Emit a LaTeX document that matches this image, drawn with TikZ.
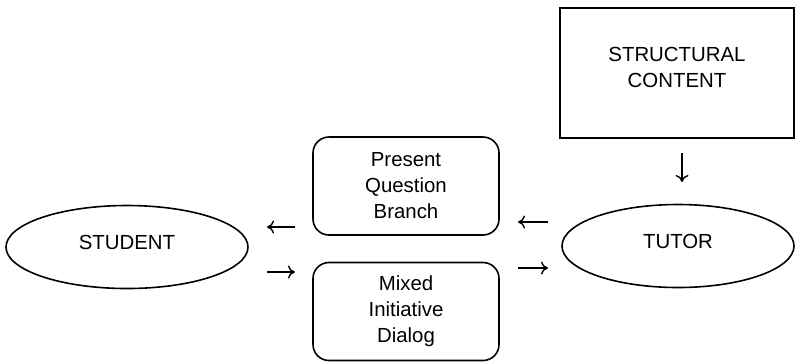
\documentclass[tikz,border=0pt]{standalone}
\usepackage{fontspec}
\setmainfont{Liberation Sans}
\usetikzlibrary{shapes.geometric,arrows.meta}

\begin{document}
\begin{tikzpicture}[x=0.5pt,y=-0.5pt,line width=0.8pt,
  every node/.style={font=\fontsize{10.2}{13}\selectfont,align=center},
  agent/.style={draw,ellipse,minimum width=121pt,minimum height=41.5pt,inner sep=0pt,text depth=5pt},
  modebox/.style={draw,rounded corners=8pt,minimum width=93pt,minimum height=49pt},
  flow/.style={-{To[length=3.5pt,width=6.5pt]},line width=0.7pt}]
\useasboundingbox (0,0) rectangle (795,361);
% the two agents
\node[agent] (student) at (127,247) {STUDENT};
\node[agent,minimum width=116pt] (tutor) at (678,246) {TUTOR};
% tutoring modes in between
\node[modebox] (present) at (406,186) {Present\\Question\\Branch};
\node[modebox] (mixed) at (406,311.5) {Mixed\\Initiative\\Dialog};
% knowledge source above the tutor
\node[draw,minimum width=117pt,minimum height=65pt,text depth=5.5pt] (content) at (677,73) {STRUCTURAL\\CONTENT};
% free arrow ends
\coordinate (sa1) at (295,227); \coordinate (sa2) at (267,227);
\coordinate (sb1) at (267,272); \coordinate (sb2) at (295,272);
\coordinate (ta1) at (548,222); \coordinate (ta2) at (518,222);
\coordinate (tb1) at (518,268); \coordinate (tb2) at (548,268);
\coordinate (ca1) at (682,153); \coordinate (ca2) at (682,182);
% flows
\draw[flow] (sa1) -- (sa2);
\draw[flow] (sb1) -- (sb2);
\draw[flow] (ta1) -- (ta2);
\draw[flow] (tb1) -- (tb2);
\draw[flow] (ca1) -- (ca2);
\end{tikzpicture}
\end{document}
